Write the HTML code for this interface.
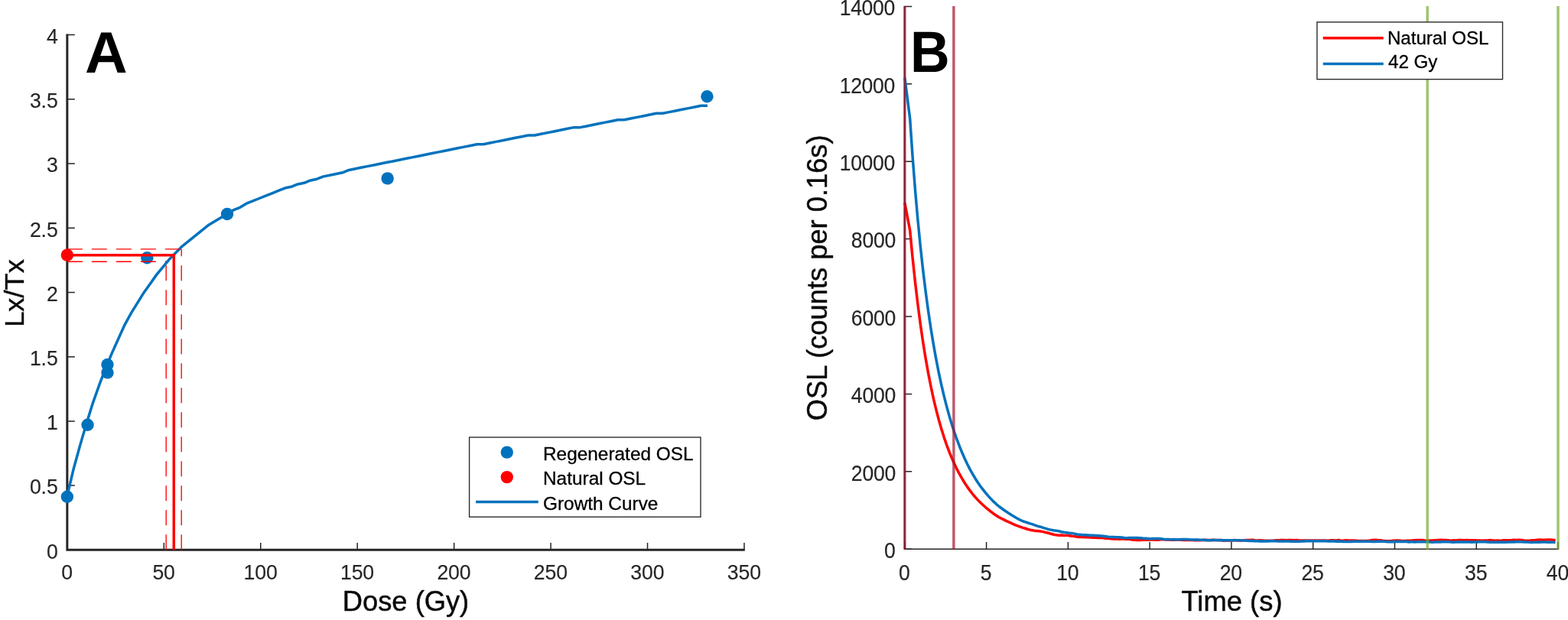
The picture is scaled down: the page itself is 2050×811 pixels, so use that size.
<!DOCTYPE html>
<html lang="en">
<head>
<meta charset="utf-8">
<title>OSL growth curve and decay curves</title>
<style>
html,body{margin:0;padding:0;background:#fff;}
body{width:2050px;height:811px;overflow:hidden;font-family:"Liberation Sans",Arial,Helvetica,sans-serif;}
svg{display:block;}
</style>
</head>
<body>
<svg width="2050" height="811" viewBox="0 0 2050 811" font-family="'Liberation Sans', Arial, Helvetica, sans-serif">
<rect width="2050" height="811" fill="#fff"/>
<g id="panelA">
<path d="M87.85 719.30V710.10M214.30 719.30V710.10M340.75 719.30V710.10M467.20 719.30V710.10M593.65 719.30V710.10M720.10 719.30V710.10M846.55 719.30V710.10M973.00 719.30V710.10M87.85 719.30H97.85M87.85 635.09H97.85M87.85 550.88H97.85M87.85 466.66H97.85M87.85 382.45H97.85M87.85 298.24H97.85M87.85 214.02H97.85M87.85 129.81H97.85M87.85 45.60H97.85" stroke="#262626" stroke-width="1.5" fill="none"/>
<path d="M87.85 44.40V719.30H973.80" stroke="#262626" stroke-width="3.0" fill="none" stroke-linejoin="miter" />
<text transform="translate(87.65 757.60) scale(1.0 1.06)" font-size="26.67" fill="#262626" text-anchor="middle" letter-spacing="-0.12" stroke="#262626" stroke-width="0.15">0</text>
<text transform="translate(214.10 757.60) scale(1.0 1.06)" font-size="26.67" fill="#262626" text-anchor="middle" letter-spacing="-0.12" stroke="#262626" stroke-width="0.15">50</text>
<text transform="translate(340.55 757.60) scale(1.0 1.06)" font-size="26.67" fill="#262626" text-anchor="middle" letter-spacing="-0.12" stroke="#262626" stroke-width="0.15">100</text>
<text transform="translate(467.00 757.60) scale(1.0 1.06)" font-size="26.67" fill="#262626" text-anchor="middle" letter-spacing="-0.12" stroke="#262626" stroke-width="0.15">150</text>
<text transform="translate(593.45 757.60) scale(1.0 1.06)" font-size="26.67" fill="#262626" text-anchor="middle" letter-spacing="-0.12" stroke="#262626" stroke-width="0.15">200</text>
<text transform="translate(719.90 757.60) scale(1.0 1.06)" font-size="26.67" fill="#262626" text-anchor="middle" letter-spacing="-0.12" stroke="#262626" stroke-width="0.15">250</text>
<text transform="translate(846.35 757.60) scale(1.0 1.06)" font-size="26.67" fill="#262626" text-anchor="middle" letter-spacing="-0.12" stroke="#262626" stroke-width="0.15">300</text>
<text transform="translate(972.80 757.60) scale(1.0 1.06)" font-size="26.67" fill="#262626" text-anchor="middle" letter-spacing="-0.12" stroke="#262626" stroke-width="0.15">350</text>
<text transform="translate(75.60 730.60) scale(1.0 1.06)" font-size="26.67" fill="#262626" text-anchor="end" letter-spacing="-0.12" stroke="#262626" stroke-width="0.15">0</text>
<text transform="translate(75.60 646.39) scale(1.0 1.06)" font-size="26.67" fill="#262626" text-anchor="end" letter-spacing="-0.12" stroke="#262626" stroke-width="0.15">0.5</text>
<text transform="translate(75.60 562.17) scale(1.0 1.06)" font-size="26.67" fill="#262626" text-anchor="end" letter-spacing="-0.12" stroke="#262626" stroke-width="0.15">1</text>
<text transform="translate(75.60 477.96) scale(1.0 1.06)" font-size="26.67" fill="#262626" text-anchor="end" letter-spacing="-0.12" stroke="#262626" stroke-width="0.15">1.5</text>
<text transform="translate(75.60 393.75) scale(1.0 1.06)" font-size="26.67" fill="#262626" text-anchor="end" letter-spacing="-0.12" stroke="#262626" stroke-width="0.15">2</text>
<text transform="translate(75.60 309.54) scale(1.0 1.06)" font-size="26.67" fill="#262626" text-anchor="end" letter-spacing="-0.12" stroke="#262626" stroke-width="0.15">2.5</text>
<text transform="translate(75.60 225.32) scale(1.0 1.06)" font-size="26.67" fill="#262626" text-anchor="end" letter-spacing="-0.12" stroke="#262626" stroke-width="0.15">3</text>
<text transform="translate(75.60 141.11) scale(1.0 1.06)" font-size="26.67" fill="#262626" text-anchor="end" letter-spacing="-0.12" stroke="#262626" stroke-width="0.15">3.5</text>
<text transform="translate(75.60 56.90) scale(1.0 1.06)" font-size="26.67" fill="#262626" text-anchor="end" letter-spacing="-0.12" stroke="#262626" stroke-width="0.15">4</text>
<text transform="translate(530.50 799.00) scale(1.008 1.012)" font-size="36" fill="#0a0a0a" text-anchor="middle" stroke="#0a0a0a" stroke-width="0.45">Dose (Gy)</text>
<text transform="translate(31.00 383.50) rotate(-90) scale(1.008 0.99)" font-size="36" fill="#0a0a0a" text-anchor="middle" stroke="#0a0a0a" stroke-width="0.45">Lx/Tx</text>
<circle cx="87.85" cy="649.74" r="8.2" fill="#0072BD"/>
<circle cx="114.53" cy="555.76" r="8.2" fill="#0072BD"/>
<circle cx="140.45" cy="487.38" r="8.2" fill="#0072BD"/>
<circle cx="140.45" cy="476.94" r="8.2" fill="#0072BD"/>
<circle cx="192.30" cy="337.31" r="8.2" fill="#0072BD"/>
<circle cx="297.00" cy="280.05" r="8.2" fill="#0072BD"/>
<circle cx="506.65" cy="233.39" r="8.2" fill="#0072BD"/>
<circle cx="924.44" cy="126.28" r="8.2" fill="#0072BD"/>
<circle cx="87.85" cy="333.61" r="8.2" fill="#FF0000"/>
<path d="M87.85 648.56 L96.22 613.19 L104.59 582.88 L112.96 554.24 L121.33 527.30 L129.70 503.72 L138.08 481.82 L146.45 461.61 L154.82 443.08 L163.19 424.56 L171.56 409.40 L179.93 395.92 L188.30 382.45 L196.67 370.66 L205.04 358.87 L213.41 348.76 L221.79 338.66 L230.16 330.24 L238.53 321.82 L246.90 315.08 L255.27 308.34 L263.64 301.61 L272.01 294.87 L280.38 289.82 L288.75 284.76 L297.12 279.71 L305.50 274.66 L313.87 271.29 L322.24 266.24 L330.61 262.87 L338.98 259.50 L347.35 256.13 L355.72 252.76 L364.09 249.39 L372.46 246.03 L380.83 244.34 L389.21 240.97 L397.58 239.29 L405.95 235.92 L414.32 234.24 L422.69 230.87 L431.06 229.18 L439.43 227.50 L447.80 225.81 L456.17 222.45 L464.54 220.76 L472.92 219.08 L481.29 217.39 L489.66 215.71 L498.03 214.02 L506.40 212.34 L514.77 210.66 L523.14 208.97 L531.51 207.29 L539.88 205.60 L548.25 203.92 L556.63 202.24 L565.00 200.55 L573.37 198.87 L581.74 197.18 L590.11 195.50 L598.48 193.81 L606.85 192.13 L615.22 190.45 L623.59 188.76 L631.96 188.76 L640.34 187.08 L648.71 185.39 L657.08 183.71 L665.45 182.02 L673.82 180.34 L682.19 178.66 L690.56 176.97 L698.93 176.97 L707.30 175.29 L715.67 173.60 L724.05 171.92 L732.42 170.23 L740.79 168.55 L749.16 166.87 L757.53 166.87 L765.90 165.18 L774.27 163.50 L782.64 161.81 L791.01 160.13 L799.38 158.44 L807.76 156.76 L816.13 156.76 L824.50 155.08 L832.87 153.39 L841.24 151.71 L849.61 150.02 L857.98 148.34 L866.35 148.34 L874.72 146.65 L883.09 144.97 L891.47 143.29 L899.84 141.60 L908.21 139.92 L916.58 138.23 L924.95 138.23" stroke="#0072BD" stroke-width="3.5" fill="none" stroke-linejoin="round"/>
<g stroke="#FF0000" stroke-width="1.35" fill="none" stroke-dasharray="20 12">
<path d="M87.85 325.9H237.2"/><path d="M87.85 342.2H217.2"/>
<path d="M217.2 719.30V342.2"/><path d="M237.2 719.30V325.9"/>
</g>
<path d="M87.85 333.7H227.3V719.30" stroke="#FF0000" stroke-width="3.5" fill="none" stroke-linejoin="miter"/>
<rect x="613.6" y="572" width="302.4" height="104.2" fill="#fff" stroke="#262626" stroke-width="1.35"/>
<circle cx="662.8" cy="591.6" r="8.2" fill="#0072BD"/>
<circle cx="662.8" cy="624.1" r="8.2" fill="#FF0000"/>
<path d="M622.1 656.6H703.8" stroke="#0072BD" stroke-width="3.5"/>
<text transform="translate(710.00 601.60) scale(1.004 0.985)" font-size="24.3" fill="#000" stroke="#000" stroke-width="0.3">Regenerated OSL</text>
<text transform="translate(710.00 634.10) scale(1.004 0.985)" font-size="24.3" fill="#000" stroke="#000" stroke-width="0.3">Natural OSL</text>
<text transform="translate(710.00 666.50) scale(1.004 0.985)" font-size="24.3" fill="#000" stroke="#000" stroke-width="0.3">Growth Curve</text>
<text transform="translate(111.00 94.60) scale(1.057 1.048)" font-size="73" fill="#000" font-weight="bold">A</text>
</g>
<g id="panelB">
<path d="M1182.85 718.20V709.00M1289.62 718.20V709.00M1396.39 718.20V709.00M1503.16 718.20V709.00M1609.92 718.20V709.00M1716.69 718.20V709.00M1823.46 718.20V709.00M1930.23 718.20V709.00M2037.00 718.20V709.00M1182.85 718.20H1192.25M1182.85 616.80H1192.25M1182.85 515.40H1192.25M1182.85 414.00H1192.25M1182.85 312.60H1192.25M1182.85 211.20H1192.25M1182.85 109.80H1192.25M1182.85 8.40H1192.25" stroke="#262626" stroke-width="1.5" fill="none"/>
<path d="M1182.85 7.70V718.20H2037.70" stroke="#262626" stroke-width="1.5" fill="none"/>
<text transform="translate(1182.25 758.70) scale(1.0 1.12)" font-size="26.67" fill="#262626" text-anchor="middle" letter-spacing="-0.28" stroke="#262626" stroke-width="0.15">0</text>
<text transform="translate(1289.02 758.70) scale(1.0 1.12)" font-size="26.67" fill="#262626" text-anchor="middle" letter-spacing="-0.28" stroke="#262626" stroke-width="0.15">5</text>
<text transform="translate(1395.79 758.70) scale(1.0 1.12)" font-size="26.67" fill="#262626" text-anchor="middle" letter-spacing="-0.28" stroke="#262626" stroke-width="0.15">10</text>
<text transform="translate(1502.56 758.70) scale(1.0 1.12)" font-size="26.67" fill="#262626" text-anchor="middle" letter-spacing="-0.28" stroke="#262626" stroke-width="0.15">15</text>
<text transform="translate(1609.33 758.70) scale(1.0 1.12)" font-size="26.67" fill="#262626" text-anchor="middle" letter-spacing="-0.28" stroke="#262626" stroke-width="0.15">20</text>
<text transform="translate(1716.09 758.70) scale(1.0 1.12)" font-size="26.67" fill="#262626" text-anchor="middle" letter-spacing="-0.28" stroke="#262626" stroke-width="0.15">25</text>
<text transform="translate(1822.86 758.70) scale(1.0 1.12)" font-size="26.67" fill="#262626" text-anchor="middle" letter-spacing="-0.28" stroke="#262626" stroke-width="0.15">30</text>
<text transform="translate(1929.63 758.70) scale(1.0 1.12)" font-size="26.67" fill="#262626" text-anchor="middle" letter-spacing="-0.28" stroke="#262626" stroke-width="0.15">35</text>
<text transform="translate(2036.40 758.70) scale(1.0 1.12)" font-size="26.67" fill="#262626" text-anchor="middle" letter-spacing="-0.28" stroke="#262626" stroke-width="0.15">40</text>
<text transform="translate(1170.60 730.00) scale(1.0 1.12)" font-size="26.67" fill="#262626" text-anchor="end" letter-spacing="-0.28" stroke="#262626" stroke-width="0.15">0</text>
<text transform="translate(1171.05 628.60) scale(1.0 1.12)" font-size="26.67" fill="#262626" text-anchor="end" letter-spacing="-0.28" stroke="#262626" stroke-width="0.15">2000</text>
<text transform="translate(1171.05 527.20) scale(1.0 1.12)" font-size="26.67" fill="#262626" text-anchor="end" letter-spacing="-0.28" stroke="#262626" stroke-width="0.15">4000</text>
<text transform="translate(1171.05 425.80) scale(1.0 1.12)" font-size="26.67" fill="#262626" text-anchor="end" letter-spacing="-0.28" stroke="#262626" stroke-width="0.15">6000</text>
<text transform="translate(1171.05 324.40) scale(1.0 1.12)" font-size="26.67" fill="#262626" text-anchor="end" letter-spacing="-0.28" stroke="#262626" stroke-width="0.15">8000</text>
<text transform="translate(1169.90 223.00) scale(1.0 1.12)" font-size="26.67" fill="#262626" text-anchor="end" letter-spacing="-0.4" stroke="#262626" stroke-width="0.15">10000</text>
<text transform="translate(1169.90 121.60) scale(1.0 1.12)" font-size="26.67" fill="#262626" text-anchor="end" letter-spacing="-0.4" stroke="#262626" stroke-width="0.15">12000</text>
<text transform="translate(1169.90 20.20) scale(1.0 1.12)" font-size="26.67" fill="#262626" text-anchor="end" letter-spacing="-0.4" stroke="#262626" stroke-width="0.15">14000</text>
<text transform="translate(1610.50 798.90) scale(1.012 1.012)" font-size="36" fill="#0a0a0a" text-anchor="middle" stroke="#0a0a0a" stroke-width="0.45">Time (s)</text>
<text transform="translate(1081.00 363.30) rotate(-90) scale(1.008 1.012)" font-size="36" fill="#0a0a0a" text-anchor="middle" stroke="#0a0a0a" stroke-width="0.45">OSL (counts per 0.16s)</text>
<path d="M1182.85 265.45 L1186.27 283.36 L1189.68 301.27 L1193.10 337.10 L1196.52 369.25 L1199.93 398.15 L1203.35 424.18 L1206.77 447.66 L1210.18 468.87 L1213.60 488.07 L1217.02 505.47 L1220.43 521.28 L1223.85 535.65 L1227.27 548.74 L1230.68 560.69 L1234.10 571.60 L1237.52 581.58 L1240.93 590.73 L1244.35 599.12 L1247.77 606.82 L1251.18 613.91 L1254.60 620.44 L1258.02 626.45 L1261.43 632.00 L1264.85 637.13 L1268.26 641.87 L1271.68 646.27 L1275.10 650.33 L1278.51 654.10 L1281.93 657.59 L1285.35 660.76 L1288.76 663.78 L1292.18 666.59 L1295.60 669.28 L1299.01 671.99 L1302.43 674.26 L1305.85 676.43 L1309.26 678.26 L1312.68 679.90 L1316.10 681.68 L1319.51 683.11 L1322.93 684.76 L1326.35 686.36 L1329.76 687.54 L1333.18 688.94 L1336.60 690.17 L1340.01 690.99 L1343.43 692.25 L1346.85 693.15 L1350.26 693.72 L1353.68 694.40 L1357.10 694.57 L1360.51 695.03 L1363.93 695.62 L1367.35 696.59 L1370.76 697.22 L1374.18 698.30 L1377.60 699.19 L1381.01 699.81 L1384.43 700.23 L1387.85 700.09 L1391.26 700.41 L1394.68 700.13 L1398.10 700.79 L1401.51 701.33 L1404.93 701.58 L1408.35 702.37 L1411.76 702.45 L1415.18 702.39 L1418.60 702.84 L1422.01 702.71 L1425.43 703.03 L1428.85 703.26 L1432.26 703.18 L1435.68 703.40 L1439.09 703.42 L1442.51 703.85 L1445.93 704.33 L1449.34 704.34 L1452.76 704.83 L1456.18 704.96 L1459.59 704.72 L1463.01 705.22 L1466.43 705.05 L1469.84 704.99 L1473.26 705.19 L1476.68 705.29 L1480.09 705.91 L1483.51 706.37 L1486.93 706.54 L1490.34 706.54 L1493.76 706.26 L1497.18 706.08 L1500.59 706.14 L1504.01 706.12 L1507.43 705.88 L1510.84 706.15 L1514.26 706.15 L1517.68 705.79 L1521.09 705.79 L1524.51 705.91 L1527.93 705.91 L1531.34 706.23 L1534.76 706.20 L1538.18 705.97 L1541.59 706.08 L1545.01 706.34 L1548.43 706.47 L1551.84 706.47 L1555.26 706.49 L1558.68 706.42 L1562.09 706.63 L1565.51 706.58 L1568.93 706.63 L1572.34 706.53 L1575.76 706.32 L1579.18 706.38 L1582.59 706.42 L1586.01 706.29 L1589.43 706.57 L1592.84 706.60 L1596.26 706.60 L1599.68 707.16 L1603.09 707.01 L1606.51 707.05 L1609.92 706.94 L1613.34 706.59 L1616.76 706.76 L1620.17 706.95 L1623.59 706.97 L1627.01 706.69 L1630.42 706.44 L1633.84 706.41 L1637.26 706.29 L1640.67 706.72 L1644.09 706.96 L1647.51 706.72 L1650.92 706.92 L1654.34 707.14 L1657.76 707.22 L1661.17 707.37 L1664.59 707.26 L1668.01 706.74 L1671.42 706.72 L1674.84 706.61 L1678.26 706.56 L1681.67 706.81 L1685.09 706.54 L1688.51 706.59 L1691.92 706.82 L1695.34 706.61 L1698.76 706.98 L1702.17 707.06 L1705.59 706.91 L1709.01 707.03 L1712.42 706.94 L1715.84 706.96 L1719.26 706.99 L1722.67 706.89 L1726.09 706.91 L1729.51 706.89 L1732.92 706.92 L1736.34 707.33 L1739.76 706.71 L1743.17 706.74 L1746.59 706.96 L1750.01 706.48 L1753.42 707.15 L1756.84 707.08 L1760.26 706.66 L1763.67 707.03 L1767.09 706.92 L1770.51 707.08 L1773.92 707.26 L1777.34 707.43 L1780.76 707.58 L1784.17 707.51 L1787.59 707.30 L1791.00 706.91 L1794.42 706.38 L1797.84 706.23 L1801.25 706.51 L1804.67 706.65 L1808.09 707.32 L1811.50 707.61 L1814.92 707.70 L1818.34 707.63 L1821.75 707.16 L1825.17 707.09 L1828.59 707.01 L1832.00 707.34 L1835.42 707.48 L1838.84 707.33 L1842.25 707.15 L1845.67 707.02 L1849.09 706.64 L1852.50 706.48 L1855.92 706.57 L1859.34 706.53 L1862.75 706.94 L1866.17 707.13 L1869.59 707.11 L1873.00 706.94 L1876.42 706.74 L1879.84 706.53 L1883.25 706.32 L1886.67 706.43 L1890.09 706.50 L1893.50 706.81 L1896.92 707.12 L1900.34 706.76 L1903.75 706.91 L1907.17 706.49 L1910.59 706.45 L1914.00 706.74 L1917.42 706.47 L1920.84 706.82 L1924.25 706.69 L1927.67 706.77 L1931.09 707.05 L1934.50 707.09 L1937.92 707.27 L1941.34 706.94 L1944.75 706.89 L1948.17 706.55 L1951.59 706.91 L1955.00 707.20 L1958.42 707.07 L1961.83 707.43 L1965.25 706.76 L1968.67 706.65 L1972.08 706.80 L1975.50 706.67 L1978.92 706.36 L1982.33 706.43 L1985.75 706.33 L1989.17 706.49 L1992.58 706.96 L1996.00 707.24 L1999.42 707.33 L2002.83 706.81 L2006.25 706.65 L2009.67 706.30 L2013.08 706.07 L2016.50 706.18 L2019.92 706.26 L2023.33 706.01 L2026.75 706.01 L2030.17 706.32 L2033.58 706.42" stroke="#FF0000" stroke-width="3.5" fill="none" stroke-linejoin="round"/>
<path d="M1182.85 101.43 L1186.27 128.21 L1189.68 154.99 L1193.10 204.77 L1196.52 248.68 L1199.93 287.62 L1203.35 322.35 L1206.77 353.47 L1210.18 381.48 L1213.60 406.79 L1217.02 429.74 L1220.43 450.61 L1223.85 469.65 L1227.27 487.06 L1230.68 503.01 L1234.10 517.65 L1237.52 531.11 L1240.93 543.51 L1244.35 554.94 L1247.77 565.49 L1251.18 575.23 L1254.60 584.24 L1258.02 592.58 L1261.43 600.30 L1264.85 607.45 L1268.26 614.08 L1271.68 620.25 L1275.10 625.97 L1278.51 631.26 L1281.93 636.19 L1285.35 640.68 L1288.76 645.00 L1292.18 648.92 L1295.60 652.65 L1299.01 656.16 L1302.43 659.32 L1305.85 662.24 L1309.26 664.74 L1312.68 667.27 L1316.10 669.49 L1319.51 671.83 L1322.93 674.00 L1326.35 675.96 L1329.76 678.02 L1333.18 679.89 L1336.60 681.50 L1340.01 682.64 L1343.43 683.77 L1346.85 684.88 L1350.26 685.87 L1353.68 687.25 L1357.10 688.32 L1360.51 689.20 L1363.93 690.41 L1367.35 691.35 L1370.76 692.38 L1374.18 693.11 L1377.60 693.82 L1381.01 694.28 L1384.43 694.77 L1387.85 695.70 L1391.26 696.26 L1394.68 696.72 L1398.10 697.22 L1401.51 697.55 L1404.93 698.15 L1408.35 698.95 L1411.76 699.34 L1415.18 699.75 L1418.60 699.73 L1422.01 699.96 L1425.43 700.23 L1428.85 700.17 L1432.26 700.46 L1435.68 700.72 L1439.09 700.95 L1442.51 701.30 L1445.93 701.77 L1449.34 702.22 L1452.76 702.39 L1456.18 702.57 L1459.59 702.68 L1463.01 702.75 L1466.43 703.05 L1469.84 703.43 L1473.26 703.70 L1476.68 703.54 L1480.09 703.46 L1483.51 703.43 L1486.93 703.45 L1490.34 703.67 L1493.76 704.02 L1497.18 704.25 L1500.59 704.54 L1504.01 704.76 L1507.43 704.55 L1510.84 704.53 L1514.26 704.59 L1517.68 704.75 L1521.09 705.28 L1524.51 705.45 L1527.93 705.44 L1531.34 705.66 L1534.76 705.56 L1538.18 705.77 L1541.59 705.71 L1545.01 705.57 L1548.43 705.47 L1551.84 705.53 L1555.26 705.84 L1558.68 705.89 L1562.09 706.05 L1565.51 705.98 L1568.93 706.17 L1572.34 706.25 L1575.76 706.46 L1579.18 706.65 L1582.59 706.63 L1586.01 706.47 L1589.43 706.58 L1592.84 706.69 L1596.26 706.57 L1599.68 706.84 L1603.09 706.85 L1606.51 706.67 L1609.92 706.74 L1613.34 706.75 L1616.76 706.65 L1620.17 706.76 L1623.59 706.96 L1627.01 707.10 L1630.42 707.35 L1633.84 707.40 L1637.26 707.50 L1640.67 707.75 L1644.09 707.70 L1647.51 707.95 L1650.92 708.11 L1654.34 707.84 L1657.76 707.98 L1661.17 707.76 L1664.59 707.59 L1668.01 707.83 L1671.42 707.94 L1674.84 708.11 L1678.26 708.10 L1681.67 708.09 L1685.09 707.98 L1688.51 708.15 L1691.92 708.14 L1695.34 708.30 L1698.76 708.31 L1702.17 708.03 L1705.59 707.90 L1709.01 707.44 L1712.42 707.65 L1715.84 707.67 L1719.26 707.67 L1722.67 707.80 L1726.09 707.73 L1729.51 707.80 L1732.92 707.73 L1736.34 708.09 L1739.76 707.92 L1743.17 707.84 L1746.59 708.22 L1750.01 707.94 L1753.42 708.18 L1756.84 708.46 L1760.26 708.50 L1763.67 708.57 L1767.09 708.45 L1770.51 708.22 L1773.92 708.25 L1777.34 708.31 L1780.76 708.18 L1784.17 708.25 L1787.59 708.32 L1791.00 708.22 L1794.42 708.44 L1797.84 708.47 L1801.25 708.26 L1804.67 708.20 L1808.09 708.13 L1811.50 708.45 L1814.92 708.70 L1818.34 708.78 L1821.75 708.84 L1825.17 708.44 L1828.59 708.23 L1832.00 708.46 L1835.42 708.29 L1838.84 708.58 L1842.25 708.93 L1845.67 708.55 L1849.09 708.99 L1852.50 708.81 L1855.92 708.41 L1859.34 708.70 L1862.75 708.68 L1866.17 708.65 L1869.59 709.00 L1873.00 709.22 L1876.42 709.06 L1879.84 709.11 L1883.25 708.88 L1886.67 708.60 L1890.09 708.63 L1893.50 708.78 L1896.92 708.99 L1900.34 709.17 L1903.75 709.04 L1907.17 709.07 L1910.59 708.87 L1914.00 708.92 L1917.42 709.10 L1920.84 709.07 L1924.25 709.18 L1927.67 709.03 L1931.09 708.94 L1934.50 708.71 L1937.92 708.73 L1941.34 708.86 L1944.75 709.05 L1948.17 709.30 L1951.59 709.19 L1955.00 709.27 L1958.42 709.13 L1961.83 709.04 L1965.25 709.16 L1968.67 709.13 L1972.08 708.99 L1975.50 709.09 L1978.92 709.02 L1982.33 708.79 L1985.75 708.77 L1989.17 708.83 L1992.58 708.96 L1996.00 709.09 L1999.42 709.27 L2002.83 709.49 L2006.25 709.25 L2009.67 709.29 L2013.08 709.17 L2016.50 709.07 L2019.92 709.07 L2023.33 709.16 L2026.75 709.28 L2030.17 709.32 L2033.58 709.50" stroke="#0072BD" stroke-width="3.5" fill="none" stroke-linejoin="round"/>
<path d="M1182.85 8V718.80" stroke="#A2142F" stroke-opacity="0.7" stroke-width="3.5" fill="none"/>
<path d="M1246.91 8V718.80" stroke="#A2142F" stroke-opacity="0.7" stroke-width="3.5" fill="none"/>
<path d="M1866.17 8V718.80" stroke="#77AC30" stroke-opacity="0.7" stroke-width="3.5" fill="none"/>
<path d="M2037.00 8V718.80" stroke="#77AC30" stroke-opacity="0.7" stroke-width="3.5" fill="none"/>
<rect x="1721.9" y="28.9" width="242.6" height="74.8" fill="#fff" stroke="#262626" stroke-width="1.35"/>
<path d="M1729.7 49.7H1808.7" stroke="#FF0000" stroke-width="3.5"/>
<path d="M1729.7 83.4H1808.7" stroke="#0072BD" stroke-width="3.5"/>
<text transform="translate(1813.90 57.80) scale(0.992 1.02)" font-size="24.3" fill="#000" stroke="#000" stroke-width="0.3">Natural OSL</text>
<text transform="translate(1815.00 89.10) scale(0.992 1.02)" font-size="24.3" fill="#000" stroke="#000" stroke-width="0.3">42 Gy</text>
<text transform="translate(1189.90 94.20) scale(0.98 1.036)" font-size="73" fill="#000" font-weight="bold">B</text>
</g>
</svg>
</body>
</html>
